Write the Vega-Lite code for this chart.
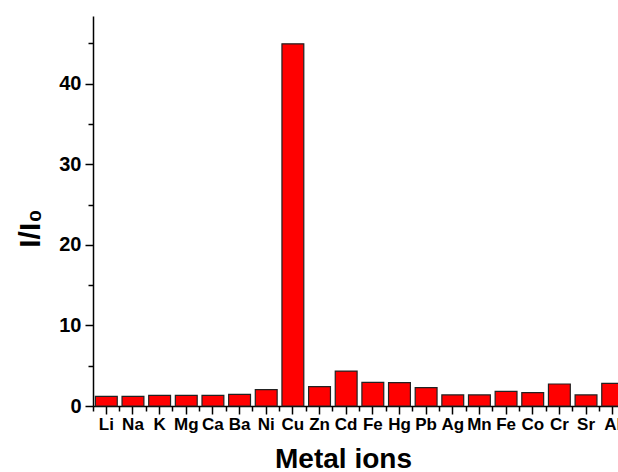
{
  "$schema": "https://vega.github.io/schema/vega-lite/v6.json",
  "width": 533,
  "height": 390,
  "autosize": "none",
  "padding": {"left": 93, "top": 16, "right": -8, "bottom": 66},
  "background": "white",
  "config": {
    "view": {"stroke": null},
    "font": "Liberation Sans",
    "axis": {"grid": false, "domainColor": "black", "tickColor": "black", "domainWidth": 1.5, "tickWidth": 1.5, "labelColor": "black", "titleColor": "black"}
  },
  "data": {
    "values": [
      {"ion": "Li", "value": 1.2},
      {"ion": "Na", "value": 1.2},
      {"ion": "K", "value": 1.33},
      {"ion": "Mg", "value": 1.33},
      {"ion": "Ca", "value": 1.33},
      {"ion": "Ba", "value": 1.45},
      {"ion": "Ni", "value": 2.03},
      {"ion": "Cu", "value": 44.95},
      {"ion": "Zn", "value": 2.4},
      {"ion": "Cd", "value": 4.34},
      {"ion": "Fe", "value": 2.94},
      {"ion": "Hg", "value": 2.9},
      {"ion": "Pb", "value": 2.28},
      {"ion": "Ag", "value": 1.37},
      {"ion": "Mn", "value": 1.37},
      {"ion": "Fe2", "value": 1.82},
      {"ion": "Co", "value": 1.66},
      {"ion": "Cr", "value": 2.73},
      {"ion": "Sr", "value": 1.37},
      {"ion": "Al", "value": 2.82}
    ]
  },
  "layer": [
    {
      "mark": {"type": "bar", "color": "#ff0000", "stroke": "#222222", "strokeWidth": 1.2, "width": {"band": 0.82}},
      "encoding": {
        "x": {
          "field": "ion", "type": "nominal", "sort": null,
          "scale": {"paddingInner": 0, "paddingOuter": 0},
          "axis": {
            "orient": "bottom",
            "title": "Metal ions",
            "labelExpr": "substring(datum.label, 0, 2)",
            "labelAngle": 0,
            "tickSize": 8,
            "labelFontSize": 17,
            "labelFontWeight": "bold",
            "labelPadding": 2,
            "titleFontSize": 28,
            "titleFontWeight": "bold",
            "titlePadding": 13,
            "titleX": 250
          }
        },
        "y": {
          "field": "value", "type": "quantitative",
          "scale": {"domain": [0, 48.4], "nice": false},
          "axis": {
            "orient": "left",
            "title": "I/I₀",
            "values": [0, 10, 20, 30, 40],
            "tickSize": 8,
            "labelFontSize": 20,
            "labelFontWeight": "bold",
            "labelPadding": 4,
            "titleFontSize": 30,
            "titleFontWeight": "bold",
            "titlePadding": 13,
            "titleY": 212
          }
        }
      }
    },
    {
      "mark": {"type": "bar", "opacity": 0},
      "encoding": {
        "x": {
          "field": "ion", "type": "nominal", "sort": null,
          "axis": {"orient": "bottom", "bandPosition": 0, "tickSize": 5, "labels": false, "domain": false, "title": null}
        },
        "y": {
          "field": "value", "type": "quantitative",
          "axis": {"orient": "left", "values": [5, 15, 25, 35, 45], "tickSize": 5, "labels": false, "domain": false, "title": null}
        }
      }
    }
  ],
  "resolve": {"axis": {"x": "independent", "y": "independent"}}
}
